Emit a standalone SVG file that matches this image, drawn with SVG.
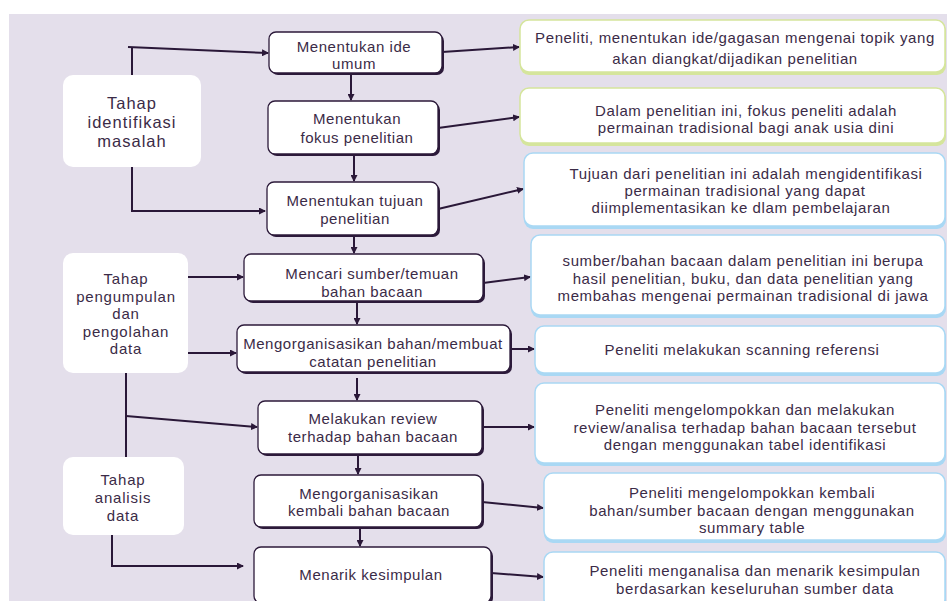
<svg xmlns="http://www.w3.org/2000/svg" width="947" height="601" viewBox="0 0 947 601">
<defs>
<style>
.bg{fill:#e4dfeb}
.lbox{fill:#ffffff}
.nshadow{fill:#2c1a3a}
.node{fill:#ffffff;stroke:#2c1a3a;stroke-width:1.3}
.rg{fill:#ffffff;stroke:#d5e59c;stroke-width:1.5}
.rgs{fill:#d5e59c}
.rb{fill:#ffffff;stroke:#a9d8f4;stroke-width:1.5}
.rbs{fill:#a9d8f4}
text{font-family:"Liberation Sans",Arial,sans-serif;fill:#3b2b47;text-anchor:middle;dominant-baseline:central}
.lt{font-size:16.5px;letter-spacing:1px}
.ls{font-size:15px;letter-spacing:0.8px}
.nt{font-size:15px;letter-spacing:0.55px}
.rt{font-size:15px;letter-spacing:0.6px}
.c{fill:none;stroke:#2a1838;stroke-width:2;marker-end:url(#ah)}
.cl{fill:none;stroke:#2a1838;stroke-width:2}
</style>
<marker id="ah" markerWidth="7" markerHeight="7" refX="6" refY="3.5" orient="auto" markerUnits="userSpaceOnUse">
<path d="M0,0 L7,3.5 L0,7 z" fill="#2a1838"/>
</marker>
</defs>
<rect x="0" y="0" width="947" height="601" fill="#ffffff"/>
<rect class="bg" x="9" y="14" width="938" height="587"/>

<g id="connectors">
<path class="cl" d="M132,75 V47"/>
<path class="c" d="M128,47 L268,53"/>
<path class="c" d="M132,167 V211 H265"/>
<path class="c" d="M188,277 H243"/>
<path class="c" d="M188,353 H236"/>
<path class="cl" d="M126,373 V457"/>
<path class="c" d="M126,416 L257,427"/>
<path class="c" d="M112,535 V566 H243"/>
<path class="c" d="M351,73 V100"/>
<path class="c" d="M354,154 V181"/>
<path class="c" d="M354,235 V253"/>
<path class="c" d="M357,301 V324"/>
<path class="c" d="M357,378 V400"/>
<path class="c" d="M358,454 V474"/>
<path class="c" d="M360,527 V546"/>
<path class="c" d="M442,52 L519,47"/>
<path class="c" d="M438,128 L519,117"/>
<path class="c" d="M438,209 L523,189"/>
<path class="c" d="M483,283 L530,277"/>
<path class="c" d="M510,349 H534"/>
<path class="c" d="M482,427 H534"/>
<path class="c" d="M482,502 L543,508"/>
<path class="c" d="M491,573 L543,577"/>
</g>

<g id="stage1">
<rect class="lbox" x="63" y="75" width="138" height="92" rx="10"/>
<text class="lt" x="132" y="103">Tahap</text>
<text class="lt" x="132" y="122">identifikasi</text>
<text class="lt" x="132" y="141">masalah</text>
</g>
<g id="stage2">
<rect class="lbox" x="63" y="253" width="125" height="120" rx="10"/>
<text class="ls" x="126" y="278">Tahap</text>
<text class="ls" x="126" y="296">pengumpulan</text>
<text class="ls" x="126" y="313">dan</text>
<text class="ls" x="126" y="331">pengolahan</text>
<text class="ls" x="126" y="348">data</text>
</g>
<g id="stage3">
<rect class="lbox" x="63" y="457" width="121" height="78" rx="10"/>
<text class="ls" x="123" y="479">Tahap</text>
<text class="ls" x="123" y="497">analisis</text>
<text class="ls" x="123" y="515">data</text>
</g>

<g id="n1">
<rect class="nshadow" x="271" y="34" width="173" height="41" rx="7"/>
<rect class="node" x="269" y="32" width="173" height="41" rx="7"/>
<text class="nt" x="354" y="46">Menentukan ide</text>
<text class="nt" x="354" y="63">umum</text>
</g>
<g id="n2">
<rect class="nshadow" x="270" y="103" width="170" height="53" rx="7"/>
<rect class="node" x="268" y="101" width="170" height="53" rx="7"/>
<text class="nt" x="357" y="118">Menentukan</text>
<text class="nt" x="357" y="137">fokus penelitian</text>
</g>
<g id="n3">
<rect class="nshadow" x="269" y="184" width="171" height="53" rx="7"/>
<rect class="node" x="267" y="182" width="171" height="53" rx="7"/>
<text class="nt" x="355" y="200">Menentukan tujuan</text>
<text class="nt" x="355" y="218">penelitian</text>
</g>
<g id="n4">
<rect class="nshadow" x="246" y="256" width="239" height="47" rx="7"/>
<rect class="node" x="244" y="254" width="239" height="47" rx="7"/>
<text class="nt" x="372" y="273">Mencari sumber/temuan</text>
<text class="nt" x="372" y="291">bahan bacaan</text>
</g>
<g id="n5">
<rect class="nshadow" x="239" y="327" width="273" height="47" rx="7"/>
<rect class="node" x="237" y="325" width="273" height="47" rx="7"/>
<text class="nt" x="373" y="343">Mengorganisasikan bahan/membuat</text>
<text class="nt" x="373" y="361">catatan penelitian</text>
</g>
<g id="n6">
<rect class="nshadow" x="260" y="403" width="224" height="53" rx="7"/>
<rect class="node" x="258" y="401" width="224" height="53" rx="7"/>
<text class="nt" x="373" y="418">Melakukan review</text>
<text class="nt" x="373" y="436">terhadap bahan bacaan</text>
</g>
<g id="n7">
<rect class="nshadow" x="256" y="477" width="228" height="52" rx="7"/>
<rect class="node" x="254" y="475" width="228" height="52" rx="7"/>
<text class="nt" x="369" y="493">Mengorganisasikan</text>
<text class="nt" x="369" y="510">kembali bahan bacaan</text>
</g>
<g id="n8">
<rect class="nshadow" x="256" y="549" width="237" height="56" rx="7"/>
<rect class="node" x="254" y="547" width="237" height="56" rx="7"/>
<text class="nt" x="371" y="574">Menarik kesimpulan</text>
</g>

<g id="r1">
<rect class="rgs" x="520" y="22" width="426" height="53" rx="9"/>
<rect class="rg" x="520" y="20" width="425" height="52" rx="9"/>
<text class="rt" x="735" y="37">Peneliti, menentukan ide/gagasan mengenai topik yang</text>
<text class="rt" x="735" y="58">akan diangkat/dijadikan penelitian</text>
</g>
<g id="r2">
<rect class="rgs" x="520" y="90" width="426" height="56" rx="9"/>
<rect class="rg" x="520" y="88" width="425" height="55" rx="9"/>
<text class="rt" x="746" y="110">Dalam penelitian ini, fokus peneliti adalah</text>
<text class="rt" x="746" y="127">permainan tradisional bagi anak usia dini</text>
</g>
<g id="r3">
<rect class="rbs" x="524" y="155" width="422" height="74" rx="9"/>
<rect class="rb" x="524" y="153" width="421" height="73" rx="9"/>
<text class="rt" x="746" y="173">Tujuan dari penelitian ini adalah mengidentifikasi</text>
<text class="rt" x="745" y="190">permainan tradisional yang dapat</text>
<text class="rt" x="741" y="207">diimplementasikan ke dlam pembelajaran</text>
</g>
<g id="r4">
<rect class="rbs" x="531" y="237" width="415" height="81" rx="9"/>
<rect class="rb" x="531" y="235" width="414" height="80" rx="9"/>
<text class="rt" x="743" y="260">sumber/bahan bacaan dalam penelitian ini berupa</text>
<text class="rt" x="743" y="278">hasil penelitian, buku, dan data penelitian yang</text>
<text class="rt" x="743" y="295">membahas mengenai permainan tradisional di jawa</text>
</g>
<g id="r5">
<rect class="rbs" x="535" y="328" width="411" height="48" rx="9"/>
<rect class="rb" x="535" y="326" width="410" height="47" rx="9"/>
<text class="rt" x="742" y="349">Peneliti melakukan scanning referensi</text>
</g>
<g id="r6">
<rect class="rbs" x="535" y="385" width="411" height="81" rx="9"/>
<rect class="rb" x="535" y="383" width="410" height="80" rx="9"/>
<text class="rt" x="745" y="409">Peneliti mengelompokkan dan melakukan</text>
<text class="rt" x="745" y="427">review/analisa terhadap bahan bacaan tersebut</text>
<text class="rt" x="745" y="444">dengan menggunakan tabel identifikasi</text>
</g>
<g id="r7">
<rect class="rbs" x="544" y="475" width="402" height="68" rx="9"/>
<rect class="rb" x="544" y="473" width="401" height="67" rx="9"/>
<text class="rt" x="752" y="492">Peneliti mengelompokkan kembali</text>
<text class="rt" x="752" y="510">bahan/sumber bacaan dengan menggunakan</text>
<text class="rt" x="752" y="527">summary table</text>
</g>
<g id="r8">
<rect class="rbs" x="544" y="554" width="402" height="56" rx="9"/>
<rect class="rb" x="544" y="552" width="401" height="56" rx="9"/>
<text class="rt" x="755" y="570">Peneliti menganalisa dan menarik kesimpulan</text>
<text class="rt" x="755" y="588">berdasarkan keseluruhan sumber data</text>
</g>
</svg>
